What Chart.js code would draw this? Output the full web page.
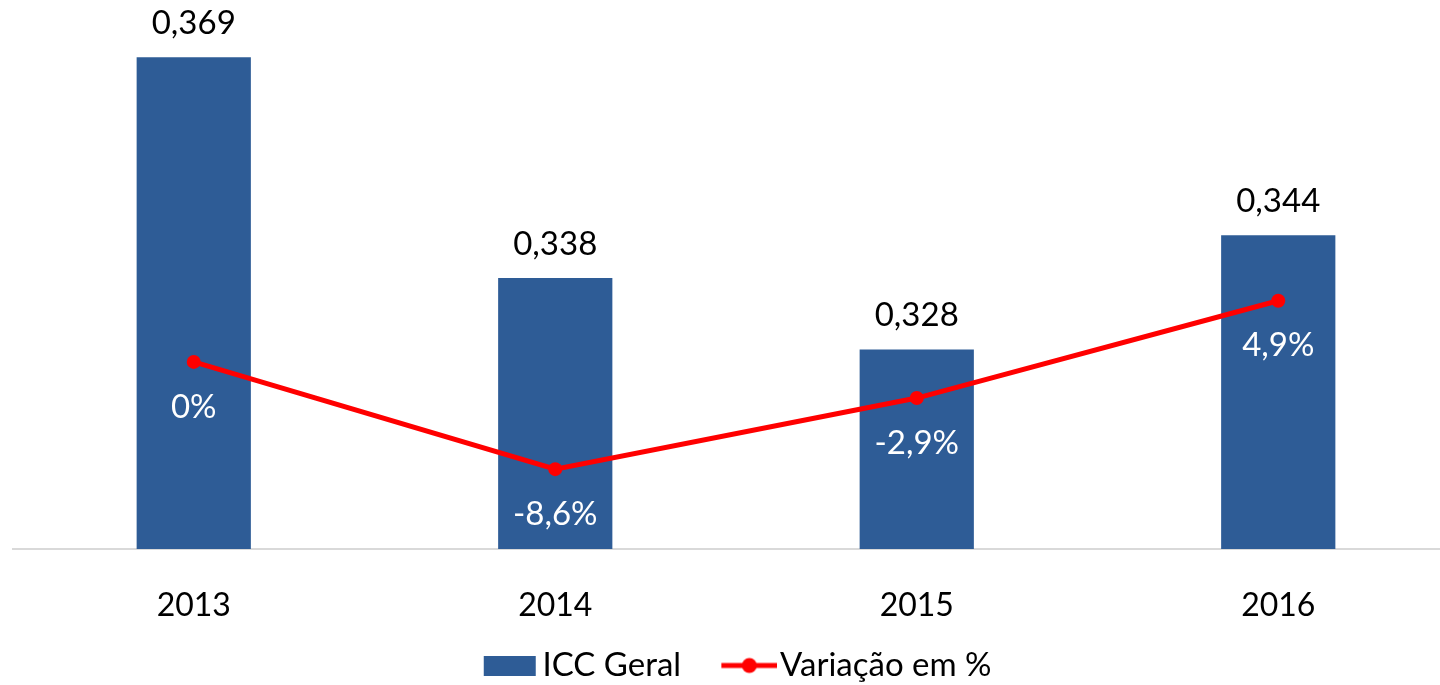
<!DOCTYPE html>
<html>
<head>
<meta charset="utf-8">
<script src="https://cdn.jsdelivr.net/npm/chart.js@4"></script>
<style>
  html, body { margin: 0; padding: 0; background: #fff; overflow: hidden; }
  #wrap { width: 1466px; height: 692px; }
</style>
</head>
<body>
<div id="wrap"><canvas id="chart" width="1466" height="692"></canvas></div>
<script>
const years = ['2013', '2014', '2015', '2016'];
const iccGeral = [0.369, 0.338, 0.328, 0.344];
const variacao = [0, -8.6, -2.9, 4.9];

const FONT = 'Lato, "Open Sans", sans-serif';
const BAR_COLOR = '#2E5C96';
const LINE_COLOR = '#FF0000';
const LEGEND_SHIFT = -16;

const fmtIcc = v => v.toFixed(3).replace('.', ',');
const fmtPct = v => (v === 0 ? '0' : v.toFixed(1).replace('.', ',')) + '%';

// legend swatches, drawn wider than the box so the gaps match the original
const makeSwatch = (draw) => {
  const c = document.createElement('canvas');
  c.width = 100;
  c.height = 20;
  draw(c.getContext('2d'));
  return c;
};
const barSwatch = makeSwatch(g => {
  g.fillStyle = BAR_COLOR;
  g.fillRect(44, 0, 52, 20);
});
const lineSwatch = makeSwatch(g => {
  g.strokeStyle = LINE_COLOR;
  g.lineWidth = 5;
  g.beginPath();
  g.moveTo(44, 10);
  g.lineTo(100, 10);
  g.stroke();
  g.fillStyle = LINE_COLOR;
  g.beginPath();
  g.arc(72, 10, 7.5, 0, Math.PI * 2);
  g.fill();
});

const valueLabels = {
  id: 'valueLabels',
  afterLayout(chart) {
    chart.legend.left += LEGEND_SHIFT;
    chart.legend.right += LEGEND_SHIFT;
  },
  afterDatasetsDraw(chart) {
    const ctx = chart.ctx;
    ctx.save();
    ctx.font = '33px ' + FONT;
    ctx.textAlign = 'center';
    ctx.textBaseline = 'middle';
    chart.getDatasetMeta(0).data.forEach((bar, i) => {
      ctx.fillStyle = '#000';
      ctx.fillText(fmtIcc(iccGeral[i]), bar.x, bar.y - 34);
    });
    chart.getDatasetMeta(1).data.forEach((pt, i) => {
      ctx.fillStyle = '#fff';
      ctx.fillText(fmtPct(variacao[i]), pt.x, pt.y + 45);
    });
    ctx.restore();
  }
};

const chart = new Chart(document.getElementById('chart'), {
  type: 'bar',
  data: {
    labels: years,
    datasets: [
      {
        type: 'bar',
        label: 'ICC Geral',
        data: iccGeral,
        backgroundColor: BAR_COLOR,
        yAxisID: 'y',
        order: 1,
        barPercentage: 0.316,
        categoryPercentage: 1
      },
      {
        type: 'line',
        label: 'Variação em %',
        data: variacao,
        borderColor: LINE_COLOR,
        backgroundColor: LINE_COLOR,
        borderWidth: 5,
        pointRadius: 7,
        pointBorderWidth: 0,
        pointBackgroundColor: LINE_COLOR,
        yAxisID: 'y1',
        order: 0,
        tension: 0
      }
    ]
  },
  options: {
    responsive: false,
    animation: false,
    layout: { padding: { top: 50, left: 13, right: 2, bottom: 0 } },
    plugins: {
      tooltip: { enabled: false },
      legend: {
        position: 'bottom',
        labels: {
          usePointStyle: true,
          pointStyleWidth: 72.5,
          padding: 10,
          color: '#000',
          font: { family: FONT, size: 33 },
          generateLabels(c) {
            const items = Chart.defaults.plugins.legend.labels.generateLabels(c);
            items.sort((a, b) => a.datasetIndex - b.datasetIndex);
            items.forEach(it => {
              it.pointStyle = it.datasetIndex === 0 ? barSwatch : lineSwatch;
            });
            return items;
          }
        }
      }
    },
    scales: {
      x: {
        grid: { display: false },
        border: { color: '#D9D9D9', width: 2 },
        ticks: { color: '#000', padding: 29, font: { family: FONT, size: 32 } },
        afterFit(s) { s.height = 90; }
      },
      y: { display: false, min: 0.30, max: 0.37 },
      y1: { display: false, min: -15, max: 25 }
    }
  },
  plugins: [valueLabels]
});
</script>
</body>
</html>
